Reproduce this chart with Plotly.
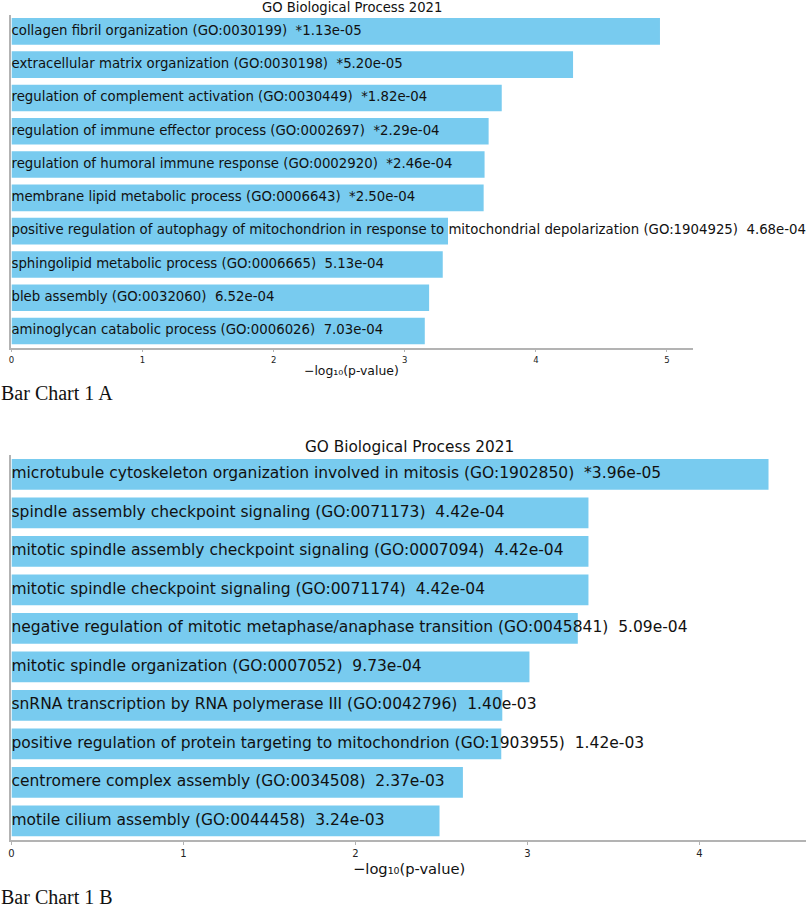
import plotly.graph_objects as go

# Chart A
terms_a = [
    "collagen fibril organization (GO:0030199)",
    "extracellular matrix organization (GO:0030198)",
    "regulation of complement activation (GO:0030449)",
    "regulation of immune effector process (GO:0002697)",
    "regulation of humoral immune response (GO:0002920)",
    "membrane lipid metabolic process (GO:0006643)",
    "positive regulation of autophagy of mitochondrion in response to mitochondrial depolarization (GO:1904925)",
    "sphingolipid metabolic process (GO:0006665)",
    "bleb assembly (GO:0032060)",
    "aminoglycan catabolic process (GO:0006026)",
]
pvals_a = ["*1.13e-05", "*5.20e-05", "*1.82e-04", "*2.29e-04", "*2.46e-04",
           "*2.50e-04", "4.68e-04", "5.13e-04", "6.52e-04", "7.03e-04"]
neglog_a = [4.947, 4.284, 3.740, 3.640, 3.609, 3.602, 3.330, 3.290, 3.186, 3.153]

# Chart B
terms_b = [
    "microtubule cytoskeleton organization involved in mitosis (GO:1902850)",
    "spindle assembly checkpoint signaling (GO:0071173)",
    "mitotic spindle assembly checkpoint signaling (GO:0007094)",
    "mitotic spindle checkpoint signaling (GO:0071174)",
    "negative regulation of mitotic metaphase/anaphase transition (GO:0045841)",
    "mitotic spindle organization (GO:0007052)",
    "snRNA transcription by RNA polymerase III (GO:0042796)",
    "positive regulation of protein targeting to mitochondrion (GO:1903955)",
    "centromere complex assembly (GO:0034508)",
    "motile cilium assembly (GO:0044458)",
]
pvals_b = ["*3.96e-05", "4.42e-04", "4.42e-04", "4.42e-04", "5.09e-04",
           "9.73e-04", "1.40e-03", "1.42e-03", "2.37e-03", "3.24e-03"]
neglog_b = [4.402, 3.355, 3.355, 3.355, 3.293, 3.012, 2.854, 2.848, 2.625, 2.489]

title = "GO Biological Process 2021"
xlabel = "\u2212log\u2081\u2080(p-value)"
captions = ["Bar Chart 1 A", "Bar Chart 1 B"]

W, H = 809, 910
bar_color = "#78CBEF"
spine = "#b3b3b3"
font = "DejaVu Sans"

fig = go.Figure()

panels = [
    dict(terms=terms_a, pvals=pvals_a, vals=neglog_a, xa="x", ya="y", size=13.3),
    dict(terms=terms_b, pvals=pvals_b, vals=neglog_b, xa="x2", ya="y2", size=15.5),
]
for p in panels:
    fig.add_trace(go.Bar(
        x=p["vals"], y=p["terms"], orientation="h", width=0.8,
        marker=dict(color=bar_color, line=dict(width=0)),
        xaxis=p["xa"], yaxis=p["ya"], hoverinfo="x+y", showlegend=False,
    ))
    labels = [t + "\u00a0\u00a0" + v for t, v in zip(p["terms"], p["pvals"])]
    fig.add_trace(go.Scatter(
        x=[0] * len(p["terms"]), y=p["terms"], text=labels, mode="text",
        textposition="middle right", cliponaxis=False,
        textfont=dict(family=font, size=p["size"], color="#111111"),
        xaxis=p["xa"], yaxis=p["ya"], hoverinfo="skip", showlegend=False,
    ))

def xax(dom, rng, size):
    return dict(domain=dom, range=rng, showgrid=False, zeroline=False,
                showline=True, linecolor=spine, linewidth=1.5,
                ticks="outside", ticklen=3, tickcolor=spine, dtick=1,
                tickfont=dict(family=font, size=size, color="#222222"))

def yax(dom, anchor):
    return dict(domain=dom, anchor=anchor, autorange="reversed", type="category",
                showticklabels=False, showgrid=False, zeroline=False,
                showline=True, linecolor=spine, linewidth=1.5, ticks="")

fig.update_layout(
    width=W, height=H,
    margin=dict(l=0, r=0, t=0, b=0),
    plot_bgcolor="white", paper_bgcolor="white",
    bargap=0.2,
    xaxis=dict(xax([8.5 / W, 692.7 / W], [0, 5.20], 8.5), anchor="y"),
    yaxis=yax([1 - 347.7 / H, 1 - 14.7 / H], "x"),
    xaxis2=dict(xax([8.5 / W, 806 / W], [0, 4.62], 10), anchor="y2"),
    yaxis2=yax([1 - 840.1 / H, 1 - 455.1 / H], "x2"),
)

anns = [
    (350 / W, 1 - 8 / H, title, 13.2, "center", font, 0),
    (408 / W, 1 - 447 / H, title, 15.3, "center", font, 0),
    (350 / W, 1 - 370.5 / H, xlabel, 12.4, "center", font, 0),
    (408 / W, 1 - 868 / H, xlabel, 14.7, "center", font, 0),
    (0, 1 - 393 / H, captions[0], 20, "left", "Liberation Serif", -4),
    (0, 1 - 897 / H, captions[1], 20, "left", "Liberation Serif", -4),
]
for x, y, txt, sz, anc, fam, dx in anns:
    fig.add_annotation(x=x, y=y, xref="paper", yref="paper", text=txt,
                       showarrow=False, xanchor=anc, yanchor="middle", xshift=dx,
                       font=dict(family=fam, size=sz, color="#111111"))

# drop the browser's default page margin so the figure sits at 0,0
fig.write_html("out.html", config={"displayModeBar": False},
               post_script="document.body.style.margin='0';")
